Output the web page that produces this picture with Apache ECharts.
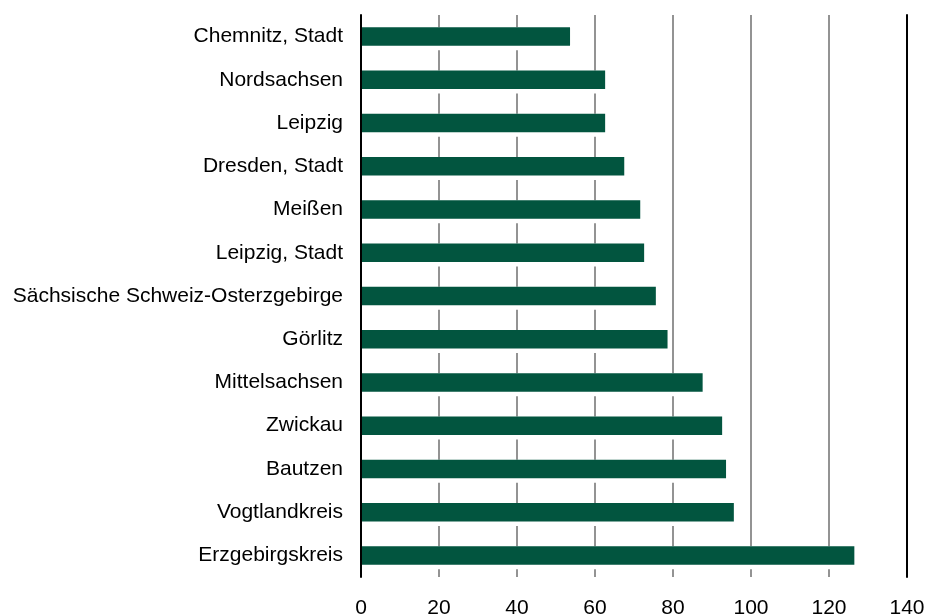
<!DOCTYPE html>
<html>
<head>
<meta charset="utf-8">
<script src="https://cdn.jsdelivr.net/npm/echarts@6/dist/echarts.min.js"></script>
<style>
html,body{margin:0;padding:0;background:#fff;}
#chart{width:930px;height:615px;}
</style>
</head>
<body>
<div id="chart"></div>
<script>
var categories = ["Chemnitz, Stadt","Nordsachsen","Leipzig","Dresden, Stadt","Meißen","Leipzig, Stadt","Sächsische Schweiz-Osterzgebirge","Görlitz","Mittelsachsen","Zwickau","Bautzen","Vogtlandkreis","Erzgebirgskreis"];
var values = [53.6, 62.6, 62.6, 67.5, 71.6, 72.6, 75.6, 78.6, 87.6, 92.6, 93.6, 95.6, 126.5];
var xTicks = [0, 20, 40, 60, 80, 100, 120, 140];

var chart = echarts.init(document.getElementById('chart'), null, {renderer:'canvas'});
var font = 'Liberation Sans, Arial, sans-serif';
chart.setOption({
  animation:false,
  backgroundColor:'#fff',
  grid:{left:361, right:23, top:15, bottom:38, containLabel:false, outerBoundsMode:'none'},
  xAxis:{
    type:'value', min:xTicks[0], max:xTicks[xTicks.length-1], interval:20,
    axisLine:{show:false}, axisTick:{show:false},
    axisLabel:{fontSize:21, color:'#000', fontFamily:font, margin:21},
    splitLine:{show:true, lineStyle:{color:'#939393', width:2}}
  },
  yAxis:[{
    type:'category', data:categories, inverse:true, z:5,
    axisLine:{show:true, lineStyle:{color:'#000', width:2}},
    axisTick:{show:false},
    axisLabel:{fontSize:21, color:'#000', fontFamily:font, margin:18, padding:[3,0,0,0]}
  },{
    type:'category', data:categories, inverse:true, position:'right', z:5,
    axisLine:{show:true, onZero:false, lineStyle:{color:'#000', width:2}},
    axisTick:{show:false}, axisLabel:{show:false}
  }],
  series:[{
    type:'bar', data:values, barWidth:23, barGap:'-100%', silent:true,
    itemStyle:{color:'#ffffff'}
  },{
    type:'bar', data:values, barWidth:18.5,
    itemStyle:{color:'#02553F'}
  }]
});
</script>
</body>
</html>
